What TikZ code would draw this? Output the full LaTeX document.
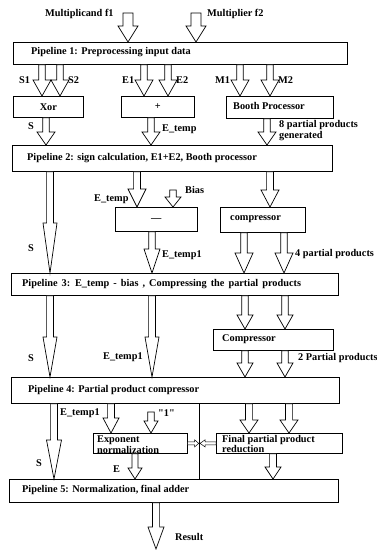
\documentclass[tikz,border=0pt]{standalone}
\usepackage{fontspec}
\setmainfont{Liberation Serif}
\usetikzlibrary{calc}
% block arrow: x, from node, to node, head length, shaft half width, head half width
\newcommand{\barrow}[6]{%
  \draw[barr] let \p1=(#2), \p2=(#3) in
    (#1pt-#5pt,\y1) -- (#1pt-#5pt,\y2+#4pt) -- (#1pt-#6pt,\y2+#4pt) -- (#1pt,\y2)
    -- (#1pt+#6pt,\y2+#4pt) -- (#1pt+#5pt,\y2+#4pt) -- (#1pt+#5pt,\y1) -- cycle;}
\begin{document}
\begin{tikzpicture}[x=1pt,y=-1pt,
  box/.style={draw, line width=0.7pt, inner sep=0pt, anchor=north west, fill=white},
  barr/.style={draw, line width=0.7pt, fill=white, line join=miter},
  lbl/.style={anchor=west, inner sep=0pt, font=\bfseries\fontsize{10.3}{11}\selectfont},
  ctext/.style={anchor=center, inner sep=0pt, font=\bfseries\fontsize{10.3}{11}\selectfont},
  ]
\useasboundingbox[fill=white] (0,0) rectangle (376,550);

% boxes
\node[box, minimum width=334pt, minimum height=22pt] (p1) at (13,42) {};
\node[box, minimum width=70pt, minimum height=21pt] (xor) at (13,96) {};
\node[box, minimum width=73pt, minimum height=21pt] (plus) at (121,96) {};
\node[box, minimum width=107pt, minimum height=22pt] (booth) at (226,96) {};
\node[box, minimum width=320pt, minimum height=26pt] (p2) at (12,145) {};
\node[box, minimum width=82pt, minimum height=24pt] (minus) at (115,207) {};
\node[box, minimum width=85pt, minimum height=25pt] (comp1) at (220,207) {};
\node[box, minimum width=327pt, minimum height=22pt] (p3) at (11,273) {};
\node[box, minimum width=120pt, minimum height=21pt] (comp2) at (213,329) {};
\node[box, minimum width=328pt, minimum height=26pt] (p4) at (11,377) {};
\node[box, minimum width=94pt, minimum height=20pt] (expn) at (93,433) {};
\node[box, minimum width=126pt, minimum height=20pt] (fin) at (216,433) {};
\node[box, minimum width=329pt, minimum height=23pt] (p5) at (9,479) {};

% box texts
\node[lbl] (t1) at (31,52) {Pipeline 1: Preprocessing input data};
\node[ctext] (txor) at (xor.center) {Xor};
\node[ctext] (tplus) at (plus.center) {+};
\node[lbl] (tbooth) at (233,106) {Booth Processor};
\node[lbl] (t2) at (27,158) {Pipeline 2: sign calculation, E1+E2, Booth processor};
\node[ctext] (tminus) at ([yshift=-1pt]minus.center) {—};
\node[lbl] (tcomp1) at (230,219) {compressor};
\node[lbl] (t3) at (22,284) {\spaceskip=4pt plus 1pt Pipeline 3: E\_temp - bias , Compressing the partial products};
\node[lbl] (tcomp2) at (222,339) {Compressor};
\node[lbl] (t4) at (28,390) {Pipeline 4: Partial product compressor};
\node[lbl, align=left, font=\bfseries\fontsize{10.3}{9}\selectfont, anchor=north west] (texp) at (97,436) {Exponent\\normalization};
\node[lbl, align=left, font=\bfseries\fontsize{10.3}{9}\selectfont, anchor=north west] (tfin) at (222,435) {Final partial product\\reduction};
\node[lbl] (t5) at (22,490) {Pipeline 5: Normalization, final adder};

% free arrow start points
\coordinate (f1top) at (128,13);
\coordinate (f2top) at (196,13);
\coordinate (biastop) at (173,190);
\coordinate (onetop) at (151,412);
\coordinate (resend) at (156,549);

% arrows
\barrow{128}{f1top}{p1.north}{16}{5}{10}
\barrow{196}{f2top}{p1.north}{16}{5}{10}
\barrow{42}{p1.south}{xor.north}{16}{3.2}{9}
\barrow{60}{p1.south}{xor.north}{16}{3.2}{9}
\barrow{144}{p1.south}{plus.north}{16}{3.2}{9}
\barrow{168}{p1.south}{plus.north}{16}{3.2}{9}
\barrow{240}{p1.south}{booth.north}{16}{3.2}{9}
\barrow{270}{p1.south}{booth.north}{16}{3.2}{9}
\barrow{46}{xor.south}{p2.north}{13}{3.2}{9}
\barrow{151}{plus.south}{p2.north}{13}{3.2}{9}
\barrow{267}{booth.south}{p2.north}{13}{3.2}{9}
\barrow{50}{p2.south}{p3.north}{50}{3.4}{7}
\barrow{137}{p2.south}{minus.north}{18}{3.4}{9}
\barrow{173}{biastop}{minus.north}{10}{3.2}{8}
\barrow{270}{p2.south}{comp1.north}{17}{3.4}{9}
\barrow{152}{minus.south}{p3.north}{24}{3.2}{8}
\barrow{244}{comp1.south}{p3.north}{20}{3.2}{9}
\barrow{284}{comp1.south}{p3.north}{20}{3.2}{9}
\barrow{50}{p3.south}{p4.north}{40}{3.4}{7}
\barrow{152}{p3.south}{p4.north}{40}{3.4}{7}
\barrow{245}{p3.south}{comp2.north}{14}{3.2}{8}
\barrow{285}{p3.south}{comp2.north}{14}{3.2}{8}
\barrow{245}{comp2.south}{p4.north}{14}{3.2}{8}
\barrow{285}{comp2.south}{p4.north}{14}{3.2}{8}
\barrow{54}{p4.south}{p5.north}{39}{3.4}{7.5}
\barrow{111}{p4.south}{expn.north}{15}{3.4}{8}
\barrow{151}{onetop}{expn.north}{12}{3.2}{7}
\barrow{249}{p4.south}{fin.north}{13}{3.6}{9}
\barrow{289}{p4.south}{fin.north}{13}{3.6}{9}
\barrow{135}{expn.south}{p5.north}{11}{3}{7}
\barrow{273}{fin.south}{p5.north}{12}{3.4}{8}
\barrow{156}{p5.south}{resend}{22}{3.6}{8}

% vertical line p4 -> p5
\draw[line width=1pt] let \p1=(p4.south), \p2=(p5.north) in (199pt,\y1) -- (199pt,\y2);

% small arrows between exponent normalization and final reduction
\draw[barr, line width=0.5pt] let \p1=(expn.east) in
  (\x1,\y1+1.5pt) -- (\x1+7pt,\y1+1.5pt) -- (\x1+7pt,\y1+3.5pt) -- (\x1+11pt,\y1)
  -- (\x1+7pt,\y1-3.5pt) -- (\x1+7pt,\y1-1.5pt) -- (\x1,\y1-1.5pt) -- cycle;
\draw[barr, line width=0.5pt] let \p1=(fin.west) in
  (\x1,\y1+1.5pt) -- (\x1-11pt,\y1+1.5pt) -- (\x1-11pt,\y1+3.5pt) -- (\x1-16pt,\y1)
  -- (\x1-11pt,\y1-3.5pt) -- (\x1-11pt,\y1-1.5pt) -- (\x1,\y1-1.5pt) -- cycle;

% labels
\node[lbl] (lf1) at (45,14) {Multiplicand f1};
\node[lbl] (lf2) at (207,14) {Multiplier f2};
\node[lbl] (ls1) at (19,80) {S1};
\node[lbl] (ls2) at (68,80) {S2};
\node[lbl] (le1) at (122,80) {E1};
\node[lbl] (le2) at (176,80) {E2};
\node[lbl] (lm1) at (215,80) {M1};
\node[lbl] (lm2) at (278,80) {M2};
\node[lbl] (ls) at (28,126) {S};
\node[lbl] (let) at (162,129) {E\_temp};
\node[lbl, align=left, font=\bfseries\fontsize{10.3}{11}\selectfont] (l8pp) at (279,131) {8 partial products\\generated};
\node[lbl] (let2) at (94,199) {E\_temp};
\node[lbl] (lbias) at (185,190) {Bias};
\node[lbl] (lsb) at (28,248) {S};
\node[lbl] (let1) at (162,255) {E\_temp1};
\node[lbl] (l4pp) at (295,254) {4 partial products};
\node[lbl] (lsc) at (28,358) {S};
\node[lbl] (let1b) at (103,357) {E\_temp1};
\node[lbl] (l2pp) at (298,358) {2 Partial products};
\node[lbl] (let1c) at (60,413) {E\_temp1};
\node[lbl] (lone) at (158,413) {\textquotedbl 1\textquotedbl};
\node[lbl] (lsd) at (36,463) {S};
\node[lbl] (le) at (113,469) {E};
\node[lbl] (lres) at (175,537) {Result};
\end{tikzpicture}
\end{document}
